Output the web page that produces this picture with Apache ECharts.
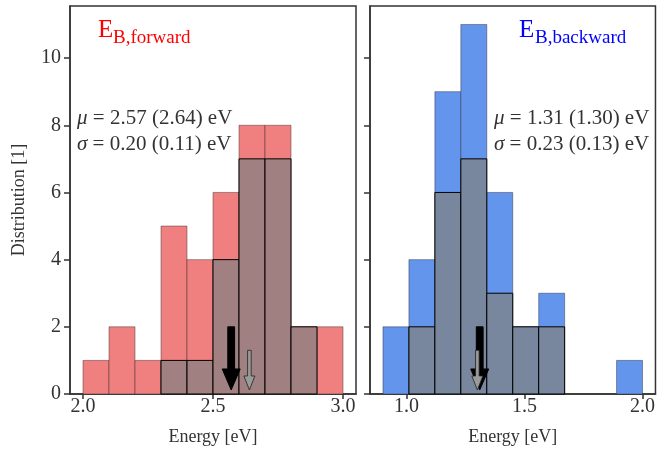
<!DOCTYPE html>
<html>
<head>
<meta charset="utf-8">
<script src="https://cdn.jsdelivr.net/npm/echarts@6/dist/echarts.min.js"></script>
<style>
  html, body { margin: 0; padding: 0; background: #fff; }
  #chart { width: 658px; height: 456px; }
</style>
</head>
<body>
<div id="chart"></div>
<script>
// Histogram bin edges and counts (all samples / highlighted subset)
const forwardEdges = [2.0, 2.1, 2.2, 2.3, 2.4, 2.5, 2.6, 2.7, 2.8, 2.9, 3.0];
const forwardAll   = [1, 2, 1, 5, 4, 6, 8, 8, 2, 2];
const forwardSub   = [0, 0, 0, 1, 1, 4, 7, 7, 2, 0];

const backwardEdges = [0.90, 1.01, 1.12, 1.23, 1.34, 1.45, 1.56, 1.67, 1.78, 1.89, 2.00];
const backwardAll   = [2, 4, 9, 11, 6, 2, 3, 0, 0, 1];
const backwardSub   = [0, 2, 6, 7, 3, 2, 2, 0, 0, 0];

// Mean and spread: [all, subset]
const forwardMean  = [2.57, 2.64];
const forwardSigma = [0.20, 0.11];
const backwardMean  = [1.31, 1.30];
const backwardSigma = [0.23, 0.13];

// Arrow extents in counts: [all, subset] start heights, common tip
const arrowTop = [2.0, 1.3];
const arrowTip = 0.12;

// Tick labels
const forwardTicks  = [2.0, 2.5, 3.0];
const backwardTicks = [1.0, 1.5, 2.0];
const countTicks    = [0, 2, 4, 6, 8, 10];

const FONT = '"Liberation Serif", "DejaVu Serif", serif';
const INK = '#333333';

function binRows(edges, counts) {
  return counts.map((c, i) => [edges[i], edges[i + 1], c]);
}

function histRenderer(fill, stroke) {
  return function (params, api) {
    const h = api.value(2);
    if (!h) return null;
    const p0 = api.coord([api.value(0), 0]);
    const p1 = api.coord([api.value(1), h]);
    return {
      type: 'rect',
      shape: { x: p0[0], y: p1[1], width: p1[0] - p0[0], height: p0[1] - p1[1] },
      style: { fill: fill, stroke: stroke, lineWidth: 1 }
    };
  };
}

function arrowRenderer(params, api) {
  const x = api.value(0);
  const top = api.coord([x, api.value(1)]);
  const tip = api.coord([x, api.value(2)]);
  const big = params.dataIndex === 0;
  const sw = big ? 3.4 : 1.8;   // shaft half-width
  const hw = big ? 9 : 5.5;     // head half-width
  const hl = big ? 21 : 14;     // head length
  const cx = top[0];
  const pts = [
    [cx - sw, top[1]], [cx + sw, top[1]], [cx + sw, tip[1] - hl],
    [cx + hw, tip[1] - hl], [cx, tip[1]], [cx - hw, tip[1] - hl],
    [cx - sw, tip[1] - hl]
  ];
  return {
    type: 'polygon',
    z2: big ? 1 : 2,
    shape: { points: pts },
    style: big ? { fill: '#000', stroke: '#000', lineWidth: 1 }
               : { fill: '#9a9a9a', stroke: '#222', lineWidth: 0.8 }
  };
}

function arrowRows(means) {
  return means.map((m, i) => [m, arrowTop[i], arrowTip]);
}

function xAxis(idx, min, max, ticks) {
  return {
    type: 'value', gridIndex: idx, min: min, max: max,
    name: 'Energy [eV]', nameLocation: 'middle', nameGap: 34,
    nameTextStyle: { fontFamily: FONT, fontSize: 18, color: INK },
    axisLine: { show: true, lineStyle: { color: INK, width: 1.5 } },
    axisTick: { show: true, length: 5, customValues: ticks, lineStyle: { color: INK, width: 1.5 } },
    axisLabel: { customValues: ticks, formatter: v => v.toFixed(1), margin: 3,
                 fontFamily: FONT, fontSize: 20, color: INK },
    splitLine: { show: false }
  };
}

function yAxis(idx, showLabels) {
  return {
    type: 'value', gridIndex: idx, min: 0, max: 11.55,
    name: showLabels ? 'Distribution [1]' : '', nameLocation: 'middle', nameGap: 42,
    nameTextStyle: { fontFamily: FONT, fontSize: 18, color: INK },
    axisLine: { show: true, lineStyle: { color: INK, width: 1.5 } },
    axisTick: { show: true, length: 6, customValues: countTicks, lineStyle: { color: INK, width: 1.5 } },
    axisLabel: { show: showLabels, customValues: countTicks, margin: 9,
                 fontFamily: FONT, fontSize: 20, color: INK },
    splitLine: { show: false }
  };
}

// "μ = a (b) eV" / "σ = a (b) eV" with an italic symbol
function statText(x, y, sym, pair) {
  return {
    type: 'text', left: x, top: y, z: 100,
    style: {
      text: '{i|' + sym + '} = ' + pair[0].toFixed(2) + ' (' + pair[1].toFixed(2) + ') eV',
      font: '21px ' + FONT, fill: INK,
      rich: { i: { fontFamily: FONT, fontStyle: 'italic', fontSize: 21, fill: INK } }
    }
  };
}

const chart = echarts.init(document.getElementById('chart'), null, { renderer: 'canvas' });

chart.setOption({
  animation: false,
  backgroundColor: '#ffffff',
  grid: [
    { left: 70, top: 6, width: 286, height: 388, show: true, borderColor: INK, borderWidth: 1.5 },
    { left: 370, top: 6, width: 286, height: 388, show: true, borderColor: INK, borderWidth: 1.5 }
  ],
  xAxis: [
    xAxis(0, 1.95, 3.05, forwardTicks),
    xAxis(1, 0.845, 2.055, backwardTicks)
  ],
  yAxis: [yAxis(0, true), yAxis(1, false)],
  series: [
    { type: 'custom', xAxisIndex: 0, yAxisIndex: 0, data: binRows(forwardEdges, forwardAll),
      encode: { x: [0, 1], y: 2 }, renderItem: histRenderer('#f08080', 'rgba(60,40,40,0.45)'), z: 2 },
    { type: 'custom', xAxisIndex: 0, yAxisIndex: 0, data: binRows(forwardEdges, forwardSub),
      encode: { x: [0, 1], y: 2 }, renderItem: histRenderer('#a08080', '#000000'), z: 3 },
    { type: 'custom', xAxisIndex: 0, yAxisIndex: 0, data: arrowRows(forwardMean),
      encode: { x: 0, y: [1, 2] }, renderItem: arrowRenderer, z: 4 },
    { type: 'custom', xAxisIndex: 1, yAxisIndex: 1, data: binRows(backwardEdges, backwardAll),
      encode: { x: [0, 1], y: 2 }, renderItem: histRenderer('#6495ed', 'rgba(40,40,60,0.45)'), z: 2 },
    { type: 'custom', xAxisIndex: 1, yAxisIndex: 1, data: binRows(backwardEdges, backwardSub),
      encode: { x: [0, 1], y: 2 }, renderItem: histRenderer('#78869e', '#000000'), z: 3 },
    { type: 'custom', xAxisIndex: 1, yAxisIndex: 1, data: arrowRows(backwardMean),
      encode: { x: 0, y: [1, 2] }, renderItem: arrowRenderer, z: 4 }
  ],
  graphic: [
    { type: 'text', left: 98, top: 18, z: 100,
      style: { text: 'E', font: '25px ' + FONT, fill: '#ff0000' } },
    { type: 'text', left: 113, top: 29, z: 100,
      style: { text: 'B,forward', font: '19px ' + FONT, fill: '#ff0000' } },
    { type: 'text', left: 519, top: 18, z: 100,
      style: { text: 'E', font: '25px ' + FONT, fill: '#0000ff' } },
    { type: 'text', left: 535, top: 29, z: 100,
      style: { text: 'B,backward', font: '19px ' + FONT, fill: '#0000ff' } },
    statText(77, 108, 'μ', forwardMean),
    statText(77, 134, 'σ', forwardSigma),
    statText(494, 108, 'μ', backwardMean),
    statText(494, 134, 'σ', backwardSigma)
  ]
});
</script>
</body>
</html>
